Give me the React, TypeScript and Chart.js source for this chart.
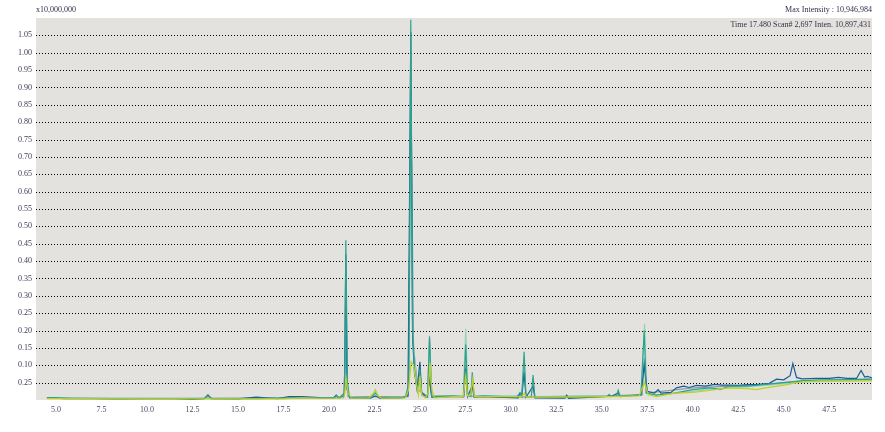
import React, { useEffect, useRef } from "react";
import { Chart, registerables } from "chart.js";

Chart.register(...registerables);

const xTickValues = [5, 7.5, 10, 12.5, 15, 17.5, 20, 22.5, 25, 27.5, 30, 32.5, 35, 37.5, 40, 42.5, 45, 47.5];
const xTickLabels = ["5.0", "7.5", "10.0", "12.5", "15.0", "17.5", "20.0", "22.5", "25.0", "27.5", "30.0", "32.5", "35.0", "37.5", "40.0", "42.5", "45.0", "47.5"];
const yTickValues = [1.05, 1.0, 0.95, 0.9, 0.85, 0.8, 0.75, 0.7, 0.65, 0.6, 0.55, 0.5, 0.45, 0.4, 0.35, 0.3, 0.25, 0.2, 0.15, 0.1, 0.05];
const yTickLabels = ["1.05", "1.00", "0.95", "0.90", "0.85", "0.80", "0.75", "0.70", "0.65", "0.60", "0.55", "0.50", "0.45", "0.40", "0.35", "0.30", "0.25", "0.20", "0.15", "0.10", "0.25"];

const blueTime = [4.5, 5.5, 7, 8.5, 10, 11.5, 12.5, 13.15, 13.35, 13.55, 15, 16, 16.5, 17.2, 17.8, 18.5, 19.5, 20.25, 20.4, 20.55, 20.85, 20.93, 21.0, 21.15, 22.3, 22.55, 22.8, 24.0, 24.35, 24.5, 24.6, 24.7, 24.85, 25.0, 25.1, 25.4, 25.52, 25.65, 26.8, 27.4, 27.52, 27.62, 27.88, 27.98, 28.5, 30.4, 30.5, 30.6, 30.73, 30.83, 31.22, 31.32, 32.97, 33.07, 33.17, 35.3, 35.4, 35.5, 35.9, 36.0, 37.15, 37.33, 37.5, 37.9, 38.1, 38.25, 38.8, 39.1, 39.5, 39.8, 40.2, 40.7, 41.2, 41.6, 42.0, 42.5, 43.0, 43.5, 44.2, 44.6, 45.0, 45.35, 45.5, 45.7, 46.0, 46.8, 47.5, 48.0, 48.5, 49.0, 49.25, 49.45, 49.6, 49.85];
const blueInt = [0.006, 0.004, 0.004, 0.003, 0.004, 0.004, 0.002, 0.004, 0.015, 0.004, 0.003, 0.008, 0.006, 0.004, 0.010, 0.010, 0.007, 0.006, 0.014, 0.006, 0.012, 0.42, 0.03, 0.006, 0.006, 0.012, 0.005, 0.006, 0.012, 1.06, 0.18, 0.08, 0.03, 0.11, 0.02, 0.008, 0.06, 0.008, 0.01, 0.01, 0.09, 0.01, 0.04, 0.008, 0.01, 0.006, 0.02, 0.01, 0.08, 0.008, 0.04, 0.006, 0.005, 0.014, 0.005, 0.01, 0.014, 0.01, 0.02, 0.01, 0.015, 0.1, 0.025, 0.02, 0.03, 0.02, 0.022, 0.035, 0.04, 0.036, 0.042, 0.04, 0.045, 0.043, 0.043, 0.042, 0.044, 0.044, 0.048, 0.06, 0.058, 0.07, 0.105, 0.065, 0.061, 0.062, 0.062, 0.065, 0.062, 0.062, 0.085, 0.066, 0.068, 0.064];

const tealTime = [4.5, 6, 8, 10, 12, 13.15, 13.35, 13.55, 16, 18, 19.5, 20.3, 20.4, 20.55, 20.86, 20.93, 21.02, 21.12, 21.4, 22.3, 22.55, 22.8, 24.2, 24.4, 24.5, 24.6, 24.7, 24.85, 24.95, 25.0, 25.1, 25.42, 25.53, 25.65, 26.8, 27.4, 27.52, 27.62, 27.8, 27.88, 27.98, 28.5, 30.3, 30.5, 30.6, 30.73, 30.83, 31.12, 31.22, 31.32, 33.07, 35.3, 35.4, 35.5, 35.8, 35.9, 36.0, 37.15, 37.33, 37.45, 38, 39, 39.5, 40, 41, 41.5, 42, 43, 44, 45, 46, 47, 48, 49.85];
const tealInt = [0.007, 0.005, 0.004, 0.004, 0.004, 0.004, 0.012, 0.004, 0.004, 0.006, 0.006, 0.006, 0.012, 0.006, 0.02, 0.46, 0.05, 0.01, 0.005, 0.006, 0.02, 0.006, 0.008, 0.05, 1.095, 0.2, 0.09, 0.03, 0.05, 0.09, 0.015, 0.008, 0.18, 0.01, 0.012, 0.01, 0.16, 0.015, 0.01, 0.08, 0.01, 0.012, 0.008, 0.02, 0.012, 0.139, 0.01, 0.008, 0.072, 0.008, 0.008, 0.01, 0.016, 0.01, 0.012, 0.028, 0.012, 0.014, 0.2, 0.02, 0.014, 0.02, 0.025, 0.03, 0.035, 0.03, 0.04, 0.04, 0.045, 0.05, 0.055, 0.058, 0.058, 0.06];

const mintTime = [4.5, 10, 17, 20.4, 20.84, 20.93, 21.05, 22.3, 22.55, 22.8, 24.35, 24.52, 24.6, 24.8, 25.0, 25.1, 25.42, 25.53, 25.66, 27.38, 27.52, 27.64, 27.8, 27.88, 27.98, 30.6, 30.73, 30.83, 31.12, 31.22, 31.32, 35, 35.8, 35.9, 36.0, 37.15, 37.35, 37.47, 38, 40, 42, 44, 46, 49.85];
const mintInt = [0.006, 0.005, 0.005, 0.006, 0.01, 0.2, 0.01, 0.006, 0.025, 0.006, 0.01, 0.7, 0.2, 0.05, 0.06, 0.012, 0.01, 0.15, 0.012, 0.012, 0.205, 0.015, 0.012, 0.05, 0.012, 0.012, 0.1, 0.01, 0.01, 0.05, 0.01, 0.012, 0.012, 0.02, 0.012, 0.015, 0.22, 0.02, 0.015, 0.025, 0.035, 0.042, 0.052, 0.056];

const grayTime = [4.5, 12, 18, 20.8, 20.93, 21.05, 24.35, 24.51, 24.65, 24.9, 25.42, 25.53, 25.64, 27.42, 27.52, 27.62, 30, 35, 37.22, 37.33, 37.44, 40, 42, 44, 46, 49.85];
const grayInt = [0.005, 0.005, 0.006, 0.007, 0.15, 0.01, 0.01, 0.9, 0.15, 0.03, 0.01, 0.185, 0.012, 0.01, 0.1, 0.012, 0.008, 0.012, 0.015, 0.12, 0.02, 0.035, 0.04, 0.045, 0.055, 0.06];

const yellowTime = [4.5, 10, 15, 17.5, 18.5, 19.5, 20.6, 20.85, 20.95, 21.05, 21.25, 22.2, 22.45, 22.55, 22.7, 22.9, 24.2, 24.38, 24.52, 24.65, 24.8, 24.92, 25.0, 25.1, 25.3, 25.45, 25.56, 25.66, 25.8, 26.8, 27.38, 27.52, 27.62, 27.8, 27.9, 28.0, 28.5, 30.6, 30.75, 30.85, 35.4, 37.05, 37.35, 37.55, 38, 39, 40, 41, 42, 43, 43.5, 44, 45, 46, 47, 48, 49.85];
const yellowInt = [0.004, 0.003, 0.003, 0.003, 0.006, 0.005, 0.005, 0.01, 0.06, 0.02, 0.005, 0.006, 0.02, 0.03, 0.012, 0.005, 0.006, 0.03, 0.11, 0.1, 0.05, 0.015, 0.07, 0.015, 0.006, 0.02, 0.107, 0.03, 0.006, 0.01, 0.01, 0.07, 0.012, 0.015, 0.06, 0.01, 0.01, 0.01, 0.02, 0.008, 0.01, 0.012, 0.05, 0.015, 0.01, 0.02, 0.022, 0.028, 0.035, 0.033, 0.03, 0.035, 0.043, 0.052, 0.055, 0.055, 0.056];

const pts = (t: number[], v: number[]) => t.map((x, i) => ({ x, y: v[i] }));

const FONT = "'Liberation Serif', 'DejaVu Serif', serif";

const bgPlugin = {
  id: "bg",
  beforeDraw(chart: any) {
    const { ctx, chartArea } = chart;
    ctx.save();
    ctx.fillStyle = "#e3e2de";
    ctx.fillRect(chartArea.left, chartArea.top, chartArea.right - chartArea.left, chartArea.bottom - chartArea.top);
    ctx.restore();
  },
  beforeDatasetsDraw(chart: any) {
    const { ctx, chartArea } = chart;
    const ys = chart.scales.y;
    ctx.save();
    ctx.strokeStyle = "#000000";
    ctx.lineWidth = 1;
    ctx.setLineDash([1, 2]);
    for (const v of yTickValues) {
      const y = Math.round(ys.getPixelForValue(v)) + 0.5;
      ctx.beginPath();
      ctx.moveTo(chartArea.left, y);
      ctx.lineTo(chartArea.right, y);
      ctx.stroke();
    }
    ctx.restore();
  },
};

const textPlugin = {
  id: "texts",
  afterDraw(chart: any) {
    const { ctx, chartArea } = chart;
    ctx.save();
    ctx.font = `8px ${FONT}`;
    ctx.fillStyle = "#2e2e4a";
    ctx.textBaseline = "middle";
    ctx.textAlign = "left";
    ctx.fillText("x10,000,000", chartArea.left, 10);
    ctx.textAlign = "right";
    ctx.fillText("Max Intensity : 10,946,984", chartArea.right, 10);
    ctx.fillStyle = "#3a2e45";
    ctx.fillText("Time 17.480 Scan# 2,697 Inten. 10,897,431", chartArea.right - 1, 25);
    ctx.restore();
  },
};

export default function App() {
  const ref = useRef<HTMLCanvasElement>(null);
  useEffect(() => {
    if (!ref.current) return;
    const mk = (label: string, t: number[], v: number[], color: string, order: number) => ({
      label,
      data: pts(t, v),
      borderColor: color,
      backgroundColor: color,
      borderWidth: 1.2,
      pointRadius: 0,
      tension: 0,
      fill: false,
      order,
    });
    const chart = new Chart(ref.current, {
      type: "line",
      data: {
        datasets: [
          mk("yellow", yellowTime, yellowInt, "#c2d022", 0),
          mk("teal", tealTime, tealInt, "#2ba48e", 1),
          mk("blue", blueTime, blueInt, "#1d5c96", 2),
          mk("mint", mintTime, mintInt, "#98d2b8", 3),
          mk("gray", grayTime, grayInt, "#8d9aa8", 4),
        ],
      },
      options: {
        animation: false,
        responsive: true,
        maintainAspectRatio: false,
        layout: { padding: { top: 18, right: 13, left: 0, bottom: 0 } },
        plugins: { legend: { display: false }, tooltip: { enabled: false } },
        scales: {
          x: {
            type: "linear",
            min: 3.9,
            max: 49.85,
            afterBuildTicks: (axis: any) => {
              axis.ticks = xTickValues.map((v) => ({ value: v }));
            },
            afterFit: (scale: any) => {
              scale.height = 32;
            },
            grid: { display: false, drawTicks: false },
            border: { display: false },
            ticks: {
              autoSkip: false,
              maxRotation: 0,
              padding: 5,
              color: "#4a4862",
              font: { family: FONT, size: 8 },
              callback: (_v: any, i: number) => xTickLabels[i],
            },
          },
          y: {
            type: "linear",
            min: 0,
            max: 1.1,
            afterBuildTicks: (axis: any) => {
              axis.ticks = yTickValues.map((v) => ({ value: v }));
            },
            afterFit: (scale: any) => {
              scale.width = 36;
            },
            grid: { display: false, drawTicks: false },
            border: { display: false },
            ticks: {
              autoSkip: false,
              padding: 4,
              color: "#3a3a55",
              font: { family: FONT, size: 8 },
              callback: (_v: any, i: number) => yTickLabels[i],
            },
          },
        },
      },
      plugins: [bgPlugin, textPlugin],
    });
    return () => chart.destroy();
  }, []);
  return (
    <div style={{ position: "fixed", left: 0, top: 0, width: 885, height: 432, background: "#ffffff" }}>
      <canvas ref={ref} />
    </div>
  );
}
